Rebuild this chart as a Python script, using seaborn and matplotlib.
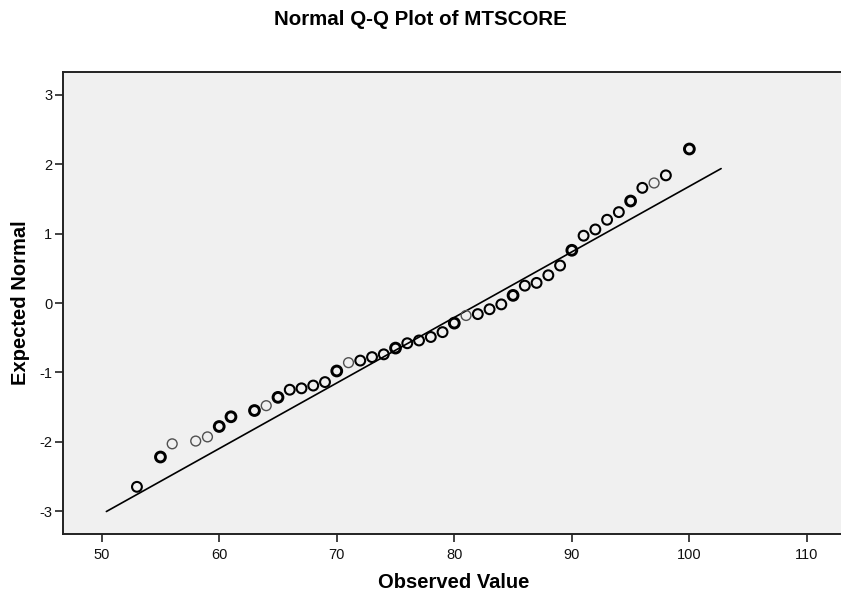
import numpy as np
import pandas as pd
import matplotlib
matplotlib.use('Agg')
import matplotlib.pyplot as plt
import seaborn as sns

observed = [53, 55, 56, 58, 59, 60, 61, 63, 64, 65, 66, 67, 68, 69, 70,
            71, 72, 73, 74, 75, 76, 77, 78, 79, 80, 81, 82, 83, 84, 85,
            86, 87, 88, 89, 90, 91, 92, 93, 94, 95, 96, 97, 98, 100]
expected = [-2.65, -2.22, -2.03, -1.99, -1.93, -1.78, -1.64, -1.55, -1.48, -1.36,
            -1.25, -1.23, -1.19, -1.14, -0.98, -0.86, -0.83, -0.78, -0.74, -0.65,
            -0.58, -0.54, -0.49, -0.42, -0.29, -0.18, -0.16, -0.09, -0.02, 0.11,
            0.25, 0.29, 0.40, 0.54, 0.76, 0.97, 1.06, 1.20, 1.31, 1.47,
            1.66, 1.73, 1.84, 2.22]
# how heavy each circle looks (1 light, 2 normal, 3 heavy / overplotted)
weight = [2, 3, 1, 1, 1, 3, 3, 3, 1, 3, 2, 2, 2, 2, 3,
          1, 2, 2, 2, 3, 2, 2, 2, 2, 3, 1, 2, 2, 2, 3,
          2, 2, 2, 2, 3, 2, 2, 2, 2, 3, 2, 1, 2, 3]

# reference line: N(mean, sd)
line_mean = 82.2
line_sd = 10.58
line_x = [50.4, 102.7]

df = pd.DataFrame({'observed': observed, 'expected': expected, 'weight': weight})
line_df = pd.DataFrame({'x': line_x})
line_df['z'] = (line_df['x'] - line_mean) / line_sd

sns.set_style('ticks')
plt.rcParams['font.family'] = ['Liberation Sans', 'DejaVu Sans']
plt.rcParams['axes.unicode_minus'] = False
plt.rcParams['text.color'] = 'black'
plt.rcParams['axes.labelcolor'] = 'black'

fig = plt.figure(figsize=(8.41, 5.95), dpi=100)
ax = fig.add_axes([0.0745, 0.1025, 0.9255, 0.7765])
ax.set_facecolor('#f0f0f0')

sns.lineplot(data=line_df, x='x', y='z', color='black', linewidth=1.2, ax=ax)

styles = {1: ('#505050', 1.0), 2: ('black', 1.5), 3: ('black', 2.1)}
for w, (col, lw) in styles.items():
    sub = df[df['weight'] == w]
    sns.scatterplot(data=sub, x='observed', y='expected', s=50, marker='o',
                    facecolor='none', edgecolor=col, linewidth=lw, ax=ax, zorder=3)

ax.set_xlim(46.68, 112.9)
ax.set_ylim(-3.33, 3.33)
ax.set_xticks([50, 60, 70, 80, 90, 100, 110])
ax.set_yticks([-3, -2, -1, 0, 1, 2, 3])
ax.tick_params(axis='both', labelsize=10.5, length=6, width=1.2, color='#222222', labelcolor='#111111')
ax.tick_params(axis='x', pad=4)
ax.tick_params(axis='y', pad=1.5)

for side in ['left', 'bottom', 'top']:
    ax.spines[side].set_color('#222222')
    ax.spines[side].set_linewidth(1.4)
ax.spines['right'].set_visible(False)

ax.set_xlabel('Observed Value', fontsize=14.5, fontweight='bold', va='center')
ax.set_ylabel('Expected Normal', fontsize=14.5, fontweight='bold', va='center')
ax.xaxis.set_label_coords(0.502, -0.106)
ax.yaxis.set_label_coords(-0.054, 0.5)
fig.text(0.5, 0.967, 'Normal Q-Q Plot of MTSCORE', ha='center', va='center',
         fontsize=14.8, fontweight='bold')

fig.savefig('out.png', dpi=100, facecolor='white')
